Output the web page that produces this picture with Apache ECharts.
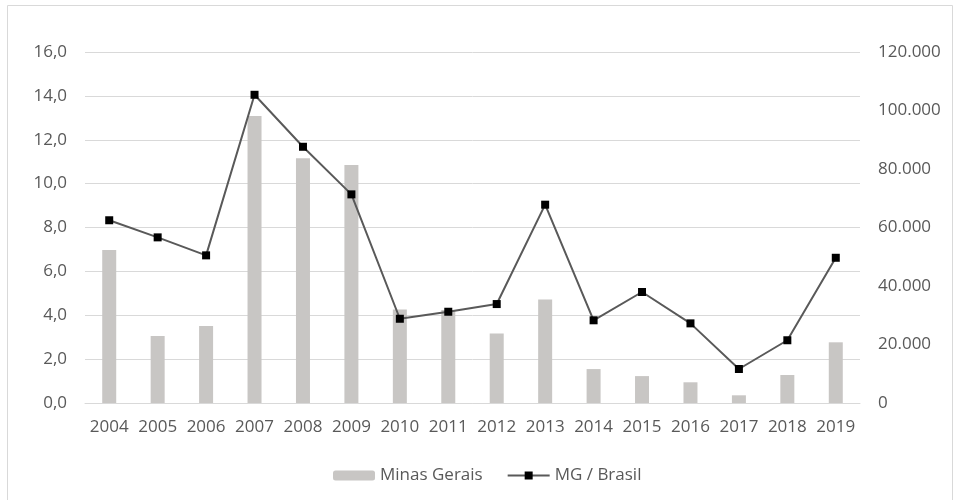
<!DOCTYPE html>
<html>
<head>
<meta charset="utf-8">
<script src="https://cdn.jsdelivr.net/npm/echarts@6/dist/echarts.min.js"></script>
<style>
  html, body { margin: 0; padding: 0; background: #fff; }
  #chart { width: 956px; height: 500px; }
</style>
</head>
<body>
<div id="chart"></div>
<script>
const years = ['2004', '2005', '2006', '2007', '2008', '2009', '2010', '2011',
  '2012', '2013', '2014', '2015', '2016', '2017', '2018', '2019']
// Minas Gerais (eixo direito)
const minasGerais = [52300, 22900, 26300, 98100, 83650, 81400, 32000, 31800,
  23800, 35400, 11600, 9200, 7080, 2630, 9570, 20750]
// MG / Brasil (eixo esquerdo, %)
const mgBrasil = [8.33, 7.55, 6.73, 14.05, 11.68, 9.51, 3.84, 4.16,
  4.51, 9.04, 3.77, 5.06, 3.63, 1.55, 2.86, 6.62]

const textColor = '#595959'
const font = 'Open Sans'
const fontSize = 17

const chart = echarts.init(document.getElementById('chart'))

const option = {
  animation: false,
  textStyle: { fontFamily: font },
  graphic: [
    {
      type: 'rect',
      shape: { x: 7.5, y: 5.5, width: 945, height: 510 },
      style: { fill: 'none', stroke: '#d9d9d9', lineWidth: 1 },
      silent: true,
    },
  ],
  grid: {
    left: 85,
    right: 96,
    top: 52,
    bottom: 97,
  },
  legend: {
    bottom: 11,
    left: 328,
    itemGap: 24,
    itemWidth: 42,
    itemHeight: 10,
    textStyle: { color: textColor, fontSize: fontSize, fontFamily: font },
    data: ['Minas Gerais', 'MG / Brasil'],
  },
  xAxis: {
    type: 'category',
    data: years,
    axisLine: { show: true, lineStyle: { color: '#d9d9d9' } },
    axisTick: { show: false },
    axisLabel: { color: textColor, fontSize: fontSize, margin: 16, interval: 0, fontFamily: font },
  },
  yAxis: [
    {
      type: 'value',
      min: 0,
      max: 16,
      interval: 2,
      axisLine: { show: false },
      axisTick: { show: false },
      axisLabel: {
        color: textColor,
        fontSize: fontSize,
        margin: 18,
        fontFamily: font,
        formatter: v => v.toFixed(1).replace('.', ','),
      },
      splitLine: { lineStyle: { color: '#d9d9d9', width: 1 } },
    },
    {
      type: 'value',
      min: 0,
      max: 120000,
      interval: 20000,
      axisLine: { show: false },
      axisTick: { show: false },
      axisLabel: {
        color: textColor,
        fontSize: fontSize,
        margin: 18,
        fontFamily: font,
        formatter: v => String(v).replace(/\B(?=(\d{3})+(?!\d))/g, '.'),
      },
      splitLine: { show: false },
    },
  ],
  series: [
    {
      name: 'Minas Gerais',
      type: 'bar',
      yAxisIndex: 1,
      data: minasGerais,
      barWidth: 14,
      itemStyle: { color: '#c8c6c4' },
    },
    {
      name: 'MG / Brasil',
      type: 'line',
      yAxisIndex: 0,
      data: mgBrasil,
      symbol: 'rect',
      symbolSize: 8,
      lineStyle: { color: '#595959', width: 2 },
      itemStyle: { color: '#000', borderWidth: 0 },
    },
  ],
}

chart.setOption(option)
</script>
</body>
</html>
